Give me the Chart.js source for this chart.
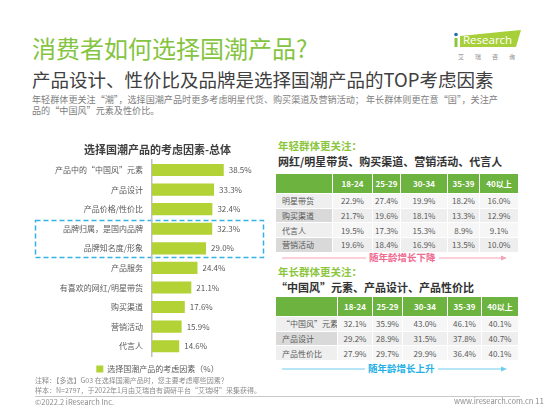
<!DOCTYPE html>
<html><head><meta charset="utf-8">
<script src="https://cdn.jsdelivr.net/npm/chart.js@4.4.1/dist/chart.umd.min.js"></script>
<style>
body{margin:0;width:549px;height:412px;position:relative;background:#fff;font-family:"Noto Sans CJK SC","Noto Sans",sans-serif;overflow:hidden}
.a{position:absolute;white-space:nowrap;line-height:1}
table{position:absolute;border-collapse:collapse;table-layout:fixed;font-size:8px;color:#595959}
td{border:1px solid #fff;padding:0;text-align:center;overflow:hidden;white-space:nowrap}
td.l{text-align:left;padding-left:6px}
th{border:1px solid #fff;background:#6db33f;color:#fff;font-weight:bold;font-size:8px;padding:0}
</style></head><body>

<div class="a" style="left:32px;top:36px;font-size:24px;color:#84c441">消费者如何选择国潮产品?</div>
<div class="a" style="left:32px;top:70px;font-size:18.5px;color:#404040">产品设计、性价比及品牌是选择国潮产品的TOP考虑因素</div>
<div class="a" style="left:32px;top:95px;font-size:9.1px;color:#808080">年轻群体更关注“潮”，选择国潮产品时更多考虑明星代货、购买渠道及营销活动； 年长群体则更在意“国”，关注产</div>
<div class="a" style="left:32px;top:106px;font-size:9.1px;color:#808080">品的“中国风”元素及性价比。</div>

<svg class="a" style="left:0;top:0" width="549" height="412">
  <polygon points="460,36 521,30 516,47 460,47" fill="#a6cf3a"/>
  <rect x="454.5" y="38" width="3" height="9" fill="#8cc63f"/>
  <circle cx="456" cy="34.5" r="1.8" fill="#1f6fb5"/>
  <rect x="35.5" y="220.5" width="228" height="37" fill="none" stroke="#33b2e6" stroke-width="1.5" stroke-dasharray="5 3"/>
  <line x1="282" y1="258" x2="503" y2="258" stroke="#f5a3b6" stroke-width="1"/>
  <polygon points="507,258 501,255.5 501,260.5" fill="#f5a3b6"/>
  <line x1="282" y1="369" x2="503" y2="369" stroke="#6fcdf0" stroke-width="1"/>
  <polygon points="507,369 501,366.5 501,371.5" fill="#6fcdf0"/>
  <line x1="35" y1="396.5" x2="520" y2="396.5" stroke="#c8c8c8" stroke-width="1"/>
</svg>
<div class="a" style="left:463px;top:34px;font-size:11.5px;color:#fff;font-family:'Open Sans',sans-serif">Research</div>
<div class="a" style="left:458px;top:54px;font-size:6px;color:#8a8a8a;letter-spacing:11px">艾瑞咨询</div>

<div style="position:absolute;left:40px;top:140px;width:235px;height:243px"><canvas id="c" width="235" height="243"></canvas></div>

<div class="a" style="left:278px;top:141px;font-size:10.5px;font-weight:bold;color:#8cc63f">年轻群体更关注：</div>
<div class="a" style="left:278px;top:156px;font-size:11px;font-weight:bold;color:#333">网红/明星带货、购买渠道、营销活动、代言人</div>
<table id="t1" style="left:275px;top:173px;width:243px"></table>
<div class="a" style="left:366px;top:253px;font-size:9.5px;font-weight:bold;color:#f0698f;background:#fff;padding:0 3px">随年龄增长下降</div>

<div class="a" style="left:278px;top:267px;font-size:10.5px;font-weight:bold;color:#8cc63f">年长群体更关注：</div>
<div class="a" style="left:276px;top:282px;font-size:11px;font-weight:bold;color:#333">“中国风”元素、产品设计、产品性价比</div>
<table id="t2" style="left:275px;top:296px;width:243px"></table>
<div class="a" style="left:365px;top:364px;font-size:9.5px;font-weight:bold;color:#22b0e6;background:#fff;padding:0 3px">随年龄增长上升</div>

<div class="a" style="left:35px;top:377px;font-size:7px;color:#8c8c8c">注释：【多选】G03 在选择国潮产品时，您主要考虑哪些因素？</div>
<div class="a" style="left:35px;top:387px;font-size:7px;color:#8c8c8c">样本：N=2797，于2022年1月由艾瑞自有调研平台“艾瑞呀”采集获得。</div>
<div class="a" style="left:35px;top:398px;font-size:7.5px;color:#8c8c8c">©2022.2 iResearch Inc.</div>
<div class="a" style="left:454px;top:397px;font-size:7.5px;color:#8c8c8c">www.iresearch.com.cn</div>
<div class="a" style="left:535px;top:397px;font-size:8px;color:#8c8c8c">11</div>

<script>
const categories = ['产品中的“中国风”元素','产品设计','产品价格/性价比','品牌归属，是国内品牌','品牌知名度/形象','产品服务','有喜欢的网红/明星带货','购买渠道','营销活动','代言人'];
const values = [38.5,33.3,32.4,32.3,29.0,24.4,21.1,17.6,15.9,14.6];
const seriesName = '选择国潮产品的考虑因素（%）';
const ageGroups = ['18-24','25-29','30-34','35-39','40以上'];
const youngRows = ['明星带货','购买渠道','代言人','营销活动'];
const youngValues = [
  [22.9,27.4,19.9,18.2,16.0],
  [21.7,19.6,18.1,13.3,12.9],
  [19.5,17.3,15.3,8.9,9.1],
  [19.6,18.4,16.9,13.5,10.0]
];
const olderRows = ['“中国风”元素','产品设计','产品性价比'];
const olderValues = [
  [32.1,35.9,43.0,46.1,40.1],
  [29.2,28.9,31.5,37.8,40.7],
  [27.9,29.7,29.9,36.4,40.1]
];

function buildTable(id, widths, headH, rowH, rows, vals, colors){
  const t = document.getElementById(id);
  let h = '<colgroup>' + widths.map(w=>'<col style="width:'+w+'px">').join('') + '</colgroup>';
  h += '<tr style="height:'+headH+'px"><th></th>' + ageGroups.map(g=>'<th>'+g+'</th>').join('') + '</tr>';
  rows.forEach((r,i)=>{
    const c = colors[i%2];
    h += '<tr style="height:'+rowH+'px"><td class="l" style="background:'+c[0]+'">'+r+'</td>' +
      vals[i].map(v=>'<td style="background:'+c[1]+'">'+v.toFixed(1)+'%</td>').join('') + '</tr>';
  });
  t.innerHTML = h;
}
buildTable('t1',[57,40,28,47,32,39],20,14.7,youngRows,youngValues,[['#efefef','#f6f6f6'],['#d9d9d9','#eeeeee']]);
buildTable('t2',[62,35,30,45,34,37],20,14.7,olderRows,olderValues,[['#efefef','#f6f6f6'],['#d9d9d9','#eeeeee']]);

const FAM = '"Noto Sans CJK SC", "Noto Sans", sans-serif';
const valueLabels = {
  id:'valueLabels',
  afterDatasetsDraw(chart){
    const ctx = chart.ctx, meta = chart.getDatasetMeta(0);
    ctx.save();
    ctx.font = '8px ' + FAM;
    ctx.fillStyle = '#595959';
    ctx.textBaseline = 'middle';
    ctx.textAlign = 'left';
    meta.data.forEach((b,i)=>{ ctx.fillText(values[i].toFixed(1)+'%', b.x+5, b.y); });
    ctx.restore();
  }
};

new Chart(document.getElementById('c'), {
  type:'bar',
  data:{labels:categories, datasets:[{label:seriesName, data:values, backgroundColor:'#b2d235', barPercentage:0.62, categoryPercentage:1}]},
  options:{
    indexAxis:'y', responsive:false, animation:false, devicePixelRatio:1,
    layout:{padding:0},
    scales:{
      x:{display:false, min:0, max:66},
      y:{grid:{display:false, drawTicks:false}, border:{display:true, color:'#bfbfbf', width:1.5},
         ticks:{font:{size:8, family:FAM}, color:'#595959', padding:9},
         afterFit(s){ s.width = 112; }}
    },
    plugins:{
      title:{display:true, text:'选择国潮产品的考虑因素-总体', font:{size:11, weight:'bold', family:FAM}, color:'#404040', padding:{top:3,bottom:4}},
      legend:{position:'bottom', labels:{boxWidth:7, boxHeight:7, font:{size:8, family:FAM}, color:'#595959', padding:9}},
      tooltip:{enabled:false}
    }
  },
  plugins:[valueLabels]
});
</script>
</body></html>
